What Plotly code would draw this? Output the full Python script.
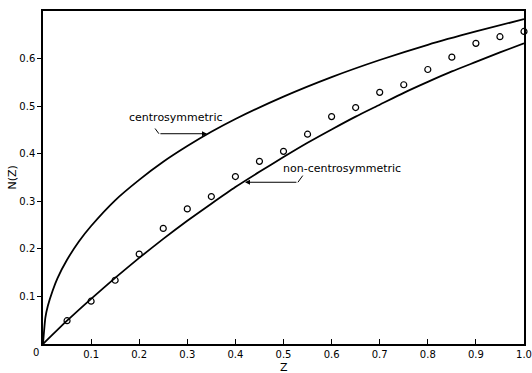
import plotly.graph_objects as go

# Theoretical curves
z_centric = [0, 0.005, 0.01, 0.02, 0.03, 0.05, 0.075, 0.1, 0.15, 0.2, 0.25, 0.3, 0.35, 0.4, 0.5, 0.6, 0.7, 0.8, 0.9, 1.0]
n_centric = [0, 0.056, 0.080, 0.112, 0.138, 0.177, 0.216, 0.248, 0.302, 0.345, 0.383, 0.416, 0.446, 0.473, 0.520, 0.561, 0.597, 0.629, 0.657, 0.683]

z_acentric = [0, 0.05, 0.1, 0.15, 0.2, 0.25, 0.3, 0.35, 0.4, 0.45, 0.5, 0.55, 0.6, 0.65, 0.7, 0.75, 0.8, 0.85, 0.9, 0.95, 1.0]
n_acentric = [0, 0.049, 0.095, 0.139, 0.181, 0.221, 0.259, 0.295, 0.330, 0.362, 0.393, 0.423, 0.451, 0.478, 0.503, 0.528, 0.551, 0.573, 0.593, 0.613, 0.632]

# Observed points
z_obs = [0.05, 0.1, 0.15, 0.2, 0.25, 0.3, 0.35, 0.4, 0.45, 0.5, 0.55, 0.6, 0.65, 0.7, 0.75, 0.8, 0.85, 0.9, 0.95, 1.0]
n_obs = [0.049, 0.090, 0.134, 0.189, 0.243, 0.284, 0.310, 0.352, 0.384, 0.405, 0.441, 0.478, 0.497, 0.529, 0.545, 0.577, 0.603, 0.632, 0.646, 0.657]

x_ticks = [0.1, 0.2, 0.3, 0.4, 0.5, 0.6, 0.7, 0.8, 0.9, 1.0]
x_tick_labels = ["0.1", "0.2", "0.3", "0.4", "0.5", "0.6", "0.7", "0.8", "0.9", "1.0"]
y_ticks = [0.1, 0.2, 0.3, 0.4, 0.5, 0.6]
y_tick_labels = ["0.1", "0.2", "0.3", "0.4", "0.5", "0.6"]

FONT = "DejaVu Sans"

fig = go.Figure()
fig.add_trace(go.Scatter(x=z_centric, y=n_centric, mode="lines",
                         line=dict(color="black", width=1.8, shape="spline", smoothing=0.6),
                         showlegend=False, hoverinfo="skip"))
fig.add_trace(go.Scatter(x=z_acentric, y=n_acentric, mode="lines",
                         line=dict(color="black", width=1.8, shape="spline", smoothing=0.6),
                         showlegend=False, hoverinfo="skip"))
fig.add_trace(go.Scatter(x=z_obs, y=n_obs, mode="markers",
                         marker=dict(symbol="circle-open", size=6, color="black", line=dict(width=1.2)),
                         showlegend=False, cliponaxis=False))

# Labels with leader lines
fig.add_annotation(x=0.276, y=0.476, text="centrosymmetric", showarrow=False,
                   font=dict(family=FONT, size=11, color="black"))
fig.add_shape(type="line", x0=0.233, y0=0.453, x1=0.241, y1=0.442, line=dict(color="black", width=1))
fig.add_annotation(x=0.341, y=0.442, ax=0.241, ay=0.442, axref="x", ayref="y",
                   showarrow=True, arrowhead=2, arrowsize=1, arrowwidth=1, arrowcolor="black", text="")

fig.add_annotation(x=0.622, y=0.369, text="non-centrosymmetric", showarrow=False,
                   font=dict(family=FONT, size=11, color="black"))
fig.add_shape(type="line", x0=0.540, y0=0.354, x1=0.530, y1=0.340, line=dict(color="black", width=1))
fig.add_annotation(x=0.42, y=0.340, ax=0.530, ay=0.340, axref="x", ayref="y",
                   showarrow=True, arrowhead=2, arrowsize=1, arrowwidth=1, arrowcolor="black", text="")

fig.add_annotation(x=0, y=0, text="0", showarrow=False, xanchor="right", yanchor="top",
                   xshift=-2, yshift=-1, font=dict(family=FONT, size=10, color="black"))

# Axis titles
fig.add_annotation(xref="paper", yref="paper", x=0.5, y=0, yshift=-15, yanchor="top",
                   text="Z", showarrow=False, font=dict(family=FONT, size=11, color="black"))
fig.add_annotation(xref="paper", yref="paper", x=0, y=0.5, xshift=-31, xanchor="center",
                   text="N(Z)", textangle=-90, showarrow=False, font=dict(family=FONT, size=11, color="black"))

fig.update_xaxes(range=[0, 1.0], tickvals=x_ticks, ticktext=x_tick_labels,
                 ticks="inside", ticklen=5, tickcolor="black", tickwidth=1,
                 showline=True, linecolor="black", linewidth=1.5, mirror=True,
                 showgrid=False, zeroline=False, automargin=False,
                 tickfont=dict(family=FONT, size=10, color="black"))
fig.update_yaxes(range=[0, 0.7], tickvals=y_ticks, ticktext=y_tick_labels,
                 ticks="outside", ticklen=4, tickcolor="black", tickwidth=1,
                 showline=True, linecolor="black", linewidth=1.5, mirror=True,
                 showgrid=False, zeroline=False, automargin=False,
                 tickfont=dict(family=FONT, size=10, color="black"))

fig.update_layout(width=532, height=373, margin=dict(l=43, r=8, t=11, b=29),
                  plot_bgcolor="white", paper_bgcolor="white")

fig.write_html("out.html", config={"displayModeBar": False},
               post_script="document.body.style.margin='0';document.body.style.overflow='hidden';")
